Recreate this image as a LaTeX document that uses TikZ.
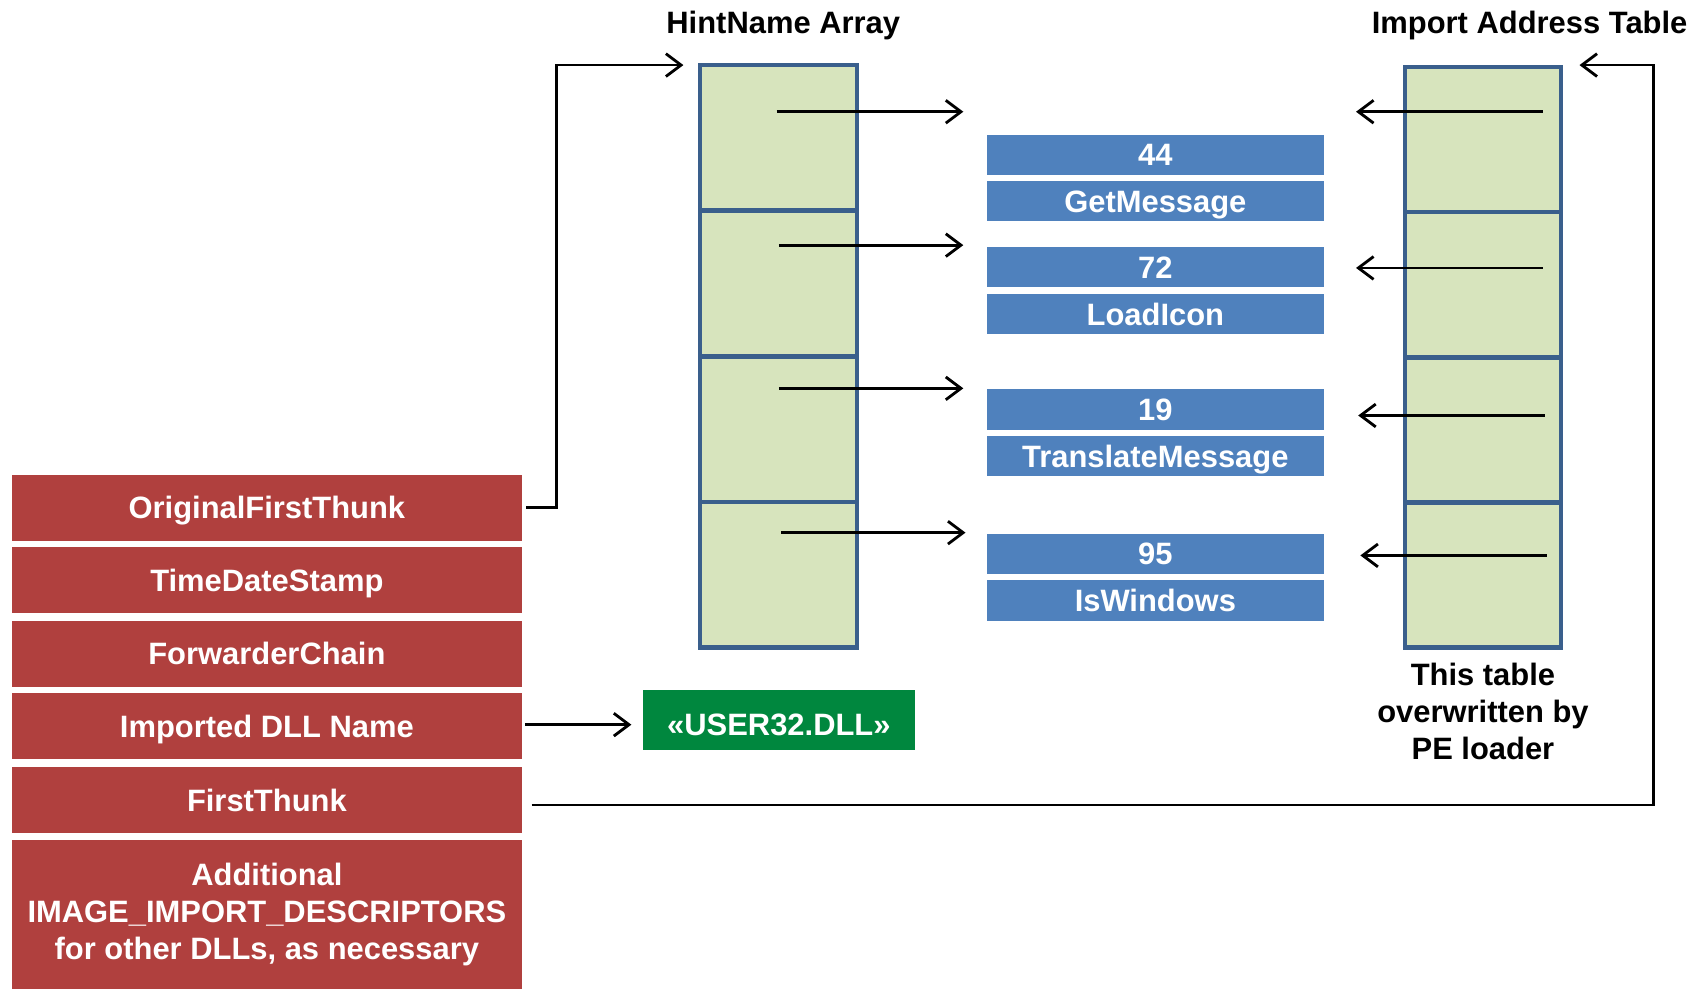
\documentclass[tikz,border=0pt]{standalone}
\usepackage{fontspec}
\setmainfont{Liberation Sans}
\usetikzlibrary{arrows.meta}
\definecolor{descred}{RGB}{176,64,62}
\definecolor{nameblue}{RGB}{79,129,189}
\definecolor{cellgreen}{RGB}{215,228,189}
\definecolor{cellborder}{RGB}{58,95,140}
\definecolor{dllgreen}{RGB}{0,135,62}
\begin{document}
\begin{tikzpicture}[x=1pt,y=-1pt,
  font=\fontsize{28.5}{34}\selectfont\bfseries,
  oneline/.style={text height=20.5pt, text depth=0pt},
  descbox/.style={fill=descred, text=white, minimum width=470pt, minimum height=61pt,
    inner sep=0pt, align=center},
  namebox/.style={fill=nameblue, text=white, minimum width=310pt, minimum height=37pt,
    inner sep=0pt, oneline},
  hcell/.style={draw=cellborder, line width=4pt, fill=cellgreen, minimum width=145pt,
    minimum height=134pt, inner sep=0pt},
  ptr/.style={line width=2.6pt, -{Straight Barb[length=14pt,width=21pt]}},
  heading/.style={text=black, inner sep=0pt}
]
\useasboundingbox (0,0) rectangle (1568,912);

% Import descriptor fields
\node[descbox, oneline] (oft)  at (246,468)   {OriginalFirstThunk};
\node[descbox, oneline] (tds)  at (246,535)   {TimeDateStamp};
\node[descbox, oneline] (fwd)  at (246,602.5) {ForwarderChain};
\node[descbox, oneline] (dll)  at (246,669.5) {Imported DLL Name};
\node[descbox, oneline] (ft)   at (246,737.5) {FirstThunk};
\node[descbox, minimum height=138pt] (more) at (246,843)
  {Additional\\IMAGE\_IMPORT\_DESCRIPTORS\\for other DLLs, as necessary};

% HintName array
\node[heading, oneline] (hnt) at (722,21) {HintName Array};
\node[hcell] (h1) at (717.5,127.1) {};
\node[hcell] (h2) at (717.5,261.4) {};
\node[hcell] (h3) at (717.5,395.6) {};
\node[hcell] (h4) at (717.5,529.9) {};

% Import address table
\node[heading, oneline] (iatt) at (1410,21) {Import Address Table};
\node[hcell, minimum width=144pt, minimum height=133.75pt] (a1) at (1367,128.9) {};
\node[hcell, minimum width=144pt, minimum height=133.75pt] (a2) at (1367,262.6) {};
\node[hcell, minimum width=144pt, minimum height=133.75pt] (a3) at (1367,396.4) {};
\node[hcell, minimum width=144pt, minimum height=133.75pt] (a4) at (1367,530.1) {};
\node[heading, align=center] (note) at (1367,656)
  {This table\\overwritten by\\PE loader};

% Hint / name entries
\node[namebox] (n44) at (1065,142.5) {44};
\node[namebox] (gm)  at (1065,185.5) {GetMessage};
\node[namebox] (n72) at (1065,246.5) {72};
\node[namebox] (li)  at (1065,289.5) {LoadIcon};
\node[namebox] (n19) at (1065,377.5) {19};
\node[namebox] (tm)  at (1065,420.5) {TranslateMessage};
\node[namebox] (n95) at (1065,510.5) {95};
\node[namebox] (iw)  at (1065,553.5) {IsWindows};

% DLL name string
\node[fill=dllgreen, text=white, minimum width=250pt, minimum height=55pt, inner sep=0pt,
  text height=29.5pt, text depth=0pt] (user) at (718,663.5) {«USER32.DLL»};

% Pointer coordinates
\coordinate (hs1) at (716,103);  \coordinate (he1) at (888,103);
\coordinate (hs2) at (718,226);  \coordinate (he2) at (888,226);
\coordinate (hs3) at (718,358);  \coordinate (he3) at (888,358);
\coordinate (hs4) at (720,491);  \coordinate (he4) at (890,491);
\coordinate (as1) at (1422,103); \coordinate (ae1) at (1250,103);
\coordinate (as2) at (1422,247); \coordinate (ae2) at (1250,247);
\coordinate (as3) at (1424,383); \coordinate (ae3) at (1252,383);
\coordinate (as4) at (1426,512); \coordinate (ae4) at (1254,512);
\coordinate (hintin) at (630,60);
\coordinate (iatin) at (1456,60);
\coordinate (dllout) at (484,668);
\coordinate (dllin) at (582,668);
\coordinate (ftout) at (490,742);

% Pointers
\foreach \i in {1,2,3,4} {
  \draw[ptr] (hs\i) -- (he\i);
  \draw[ptr] (as\i) -- (ae\i);
}
\draw[ptr] ([xshift=4pt]oft.east) -- ++(28,0) |- (hintin);
\draw[ptr] (dllout) -- (dllin);
\draw[ptr] (ftout) -- (1524,742) |- (iatin);
\end{tikzpicture}
\end{document}
